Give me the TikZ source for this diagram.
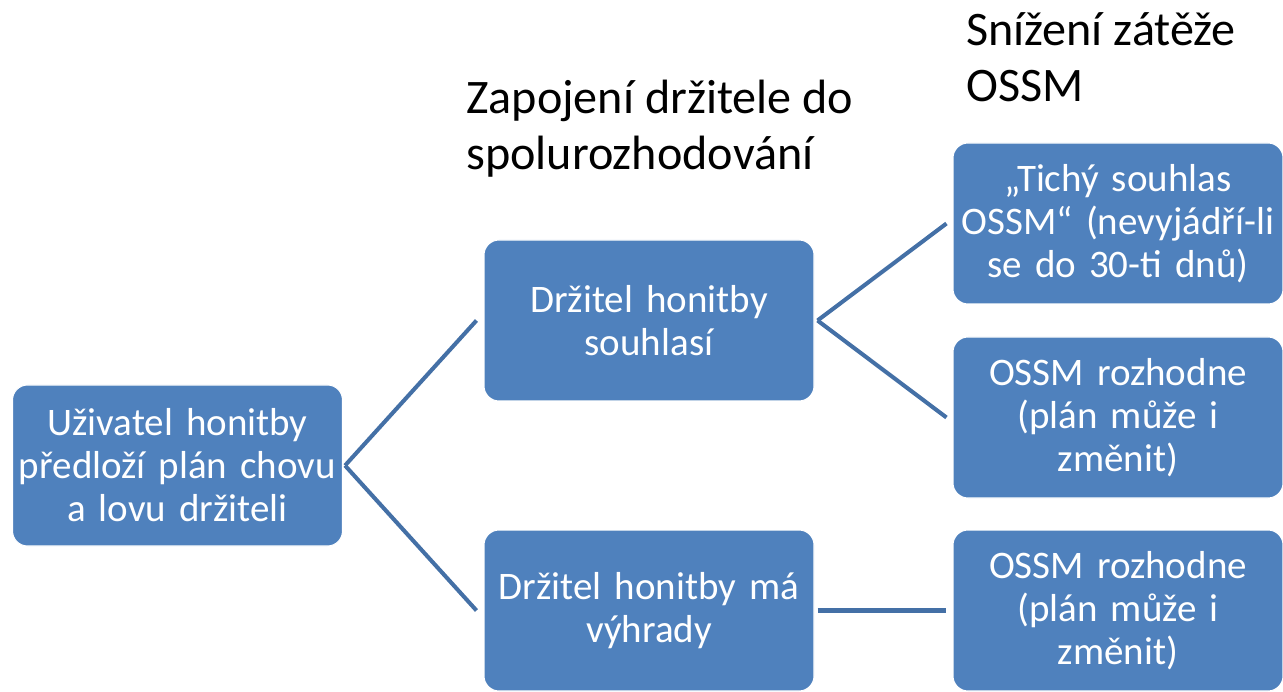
\documentclass[tikz,border=0pt]{standalone}
\usepackage{fontspec}
\setmainfont{Carlito}
\definecolor{boxblue}{RGB}{79,129,189}
\definecolor{lineblue}{RGB}{68,112,166}

\begin{document}
\begin{tikzpicture}[
	krok/.style={draw=white, line width=0.6pt, fill=boxblue, rounded corners=0.3cm,
		inner xsep=0pt, inner ysep=0.2cm, text width=6.6cm, minimum height=3.22cm,
		align=center, text=white, font=\fontsize{22.2}{24.5}\selectfont},
	nadpis/.style={anchor=base west, align=left, inner sep=0pt,
		font=\fontsize{27.4}{32.2}\selectfont},
	spoj/.style={draw=lineblue, line width=2.3pt}]

			\useasboundingbox (0,0) rectangle (25.66,13.82);

			%headings
			\node[nadpis] (Zapojeni) at (9.32,10.42){Zapojení držitele do\\spolurozhodování};
			\node[nadpis] (Snizeni) at (19.32,11.78){Snížení zátěže\\OSSM};

			%boxes
			\node[krok] (Uzivatel) at (3.55,4.51){Uživatel honitby\\předloží plán chovu\\a lovu držiteli};
			\node[krok] (Souhlasi) at (12.98,7.41){Držitel honitby\\souhlasí};
			\node[krok] (Vyhrady) at (12.98,1.61){Držitel honitby má\\výhrady};
			\node[krok] (Tichy) at (22.36,9.35){„Tichý souhlas\\OSSM“ (nevyjádří-li\\se do 30-ti dnů)};
			\node[krok] (Rozhodne) at (22.36,5.47){OSSM rozhodne\\(plán může i\\změnit)};
			\node[krok] (RozhodneB) at (22.36,1.61){OSSM rozhodne\\(plán může i\\změnit)};

			%connectors
			\draw[spoj] ([xshift=0.04cm]Uzivatel.east) -- ([xshift=-0.14cm]Souhlasi.west);
			\draw[spoj] ([xshift=0.04cm]Uzivatel.east) -- ([xshift=-0.14cm]Vyhrady.west);
			\draw[spoj] ([xshift=0.06cm]Souhlasi.east) -- ([xshift=-0.12cm]Tichy.west);
			\draw[spoj] ([xshift=0.06cm]Souhlasi.east) -- ([xshift=-0.12cm]Rozhodne.west);
			\draw[spoj] ([xshift=0.06cm]Vyhrady.east) -- ([xshift=-0.12cm]RozhodneB.west);
		\end{tikzpicture}
\end{document}
